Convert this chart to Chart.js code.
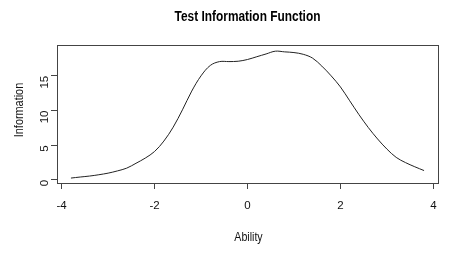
<!DOCTYPE html>
<html>
<head>
<meta charset="utf-8">
<script src="https://cdn.jsdelivr.net/npm/chart.js@4.4.1/dist/chart.umd.min.js"></script>
<style>
  html, body { margin: 0; padding: 0; background: #fff; }
</style>
</head>
<body>
<canvas id="myChart" width="454" height="253"></canvas>
<script>
const ability = [-3.8, -3.6, -3.4, -3.2, -3.0, -2.8, -2.6, -2.4, -2.2, -2.0,
    -1.8, -1.6, -1.4, -1.2, -1.0, -0.8, -0.6, -0.4, -0.2, 0.0,
    0.2, 0.4, 0.6, 0.8, 1.0, 1.2, 1.4, 1.6, 1.8, 2.0,
    2.2, 2.4, 2.6, 2.8, 3.0, 3.2, 3.4, 3.6, 3.8];
const information = [0.27, 0.42, 0.56, 0.75, 0.98, 1.3, 1.7, 2.4, 3.15, 4.1,
    5.6, 7.6, 10.1, 12.8, 15.0, 16.5, 17.05, 17.05, 17.1, 17.35,
    17.75, 18.15, 18.55, 18.45, 18.35, 18.1, 17.55, 16.4, 15.0, 13.4,
    11.4, 9.4, 7.55, 5.9, 4.45, 3.25, 2.5, 1.9, 1.35];
const xTicks = [-4, -2, 0, 2, 4];
const yTicks = [0, 5, 10, 15];
const chartTitle = 'Test Information Function';
const xTitle = 'Ability';
const yTitle = 'Information';

const fontFam = '"Liberation Sans", Arial, sans-serif';

// R on windows draws narrow looking text, so squeeze it a bit
function squeezeText(ctx, text, x, y, font, sx, rot) {
    ctx.save();
    ctx.translate(x, y);
    ctx.rotate(rot);
    ctx.scale(sx, 1);
    ctx.font = font;
    ctx.textAlign = 'center';
    ctx.textBaseline = 'alphabetic';
    ctx.fillText(text, 0, 0);
    ctx.restore();
}

const boxPlugin = {
    id: 'box',
    afterDraw(chart) {
        const a = chart.chartArea;
        const ctx = chart.ctx;
        ctx.save();
        ctx.strokeStyle = '#444';
        ctx.lineWidth = 1;
        ctx.strokeRect(Math.round(a.left) + 0.5, Math.round(a.top) + 0.5,
            Math.round(a.width), Math.round(a.height));

        const cx = (a.left + a.right) / 2;
        const cy = (a.top + a.bottom) / 2;
        ctx.fillStyle = '#000';
        squeezeText(ctx, chartTitle, cx, 21, 'bold 14px ' + fontFam, 0.85, 0);
        ctx.fillStyle = '#111';
        squeezeText(ctx, xTitle, cx + 1, 241, '12.5px ' + fontFam, 0.85, 0);
        squeezeText(ctx, yTitle, 23, cy - 4, '12.5px ' + fontFam, 0.87, -Math.PI / 2);
        ctx.restore();
    }
};

const points = ability.map((x, i) => ({ x: x, y: information[i] }));

new Chart(document.getElementById('myChart'), {
    type: 'line',
    data: {
        datasets: [{
            data: points,
            borderColor: '#222',
            borderWidth: 1,
            pointRadius: 0,
            tension: 0.35,
            fill: false
        }]
    },
    options: {
        responsive: false,
        animation: false,
        devicePixelRatio: 1,
        layout: { padding: { left: 0, right: 16, top: 45, bottom: 0 } },
        plugins: {
            legend: { display: false },
            tooltip: { enabled: false },
            title: { display: false }
        },
        scales: {
            x: {
                type: 'linear',
                min: -4.1,
                max: 4.1,
                afterBuildTicks: s => { s.ticks = xTicks.map(v => ({ value: v })); },
                afterFit: s => { s.height = 70; },
                grid: { drawOnChartArea: false, tickLength: 6, color: '#444' },
                border: { display: false },
                ticks: {
                    color: '#111',
                    padding: 10,
                    maxRotation: 0,
                    font: { family: fontFam, size: 11.5 },
                    callback: v => String(v)
                }
            },
            y: {
                type: 'linear',
                min: -0.44,
                max: 19.44,
                afterBuildTicks: s => { s.ticks = yTicks.map(v => ({ value: v })); },
                afterFit: s => { s.width = 57; },
                grid: { drawOnChartArea: false, tickLength: 6, color: '#444' },
                border: { display: false },
                ticks: {
                    color: '#111',
                    padding: 6,
                    minRotation: 90,
                    maxRotation: 90,
                    font: { family: fontFam, size: 11.5 },
                    callback: v => String(v)
                }
            }
        }
    },
    plugins: [boxPlugin]
});
</script>
</body>
</html>
